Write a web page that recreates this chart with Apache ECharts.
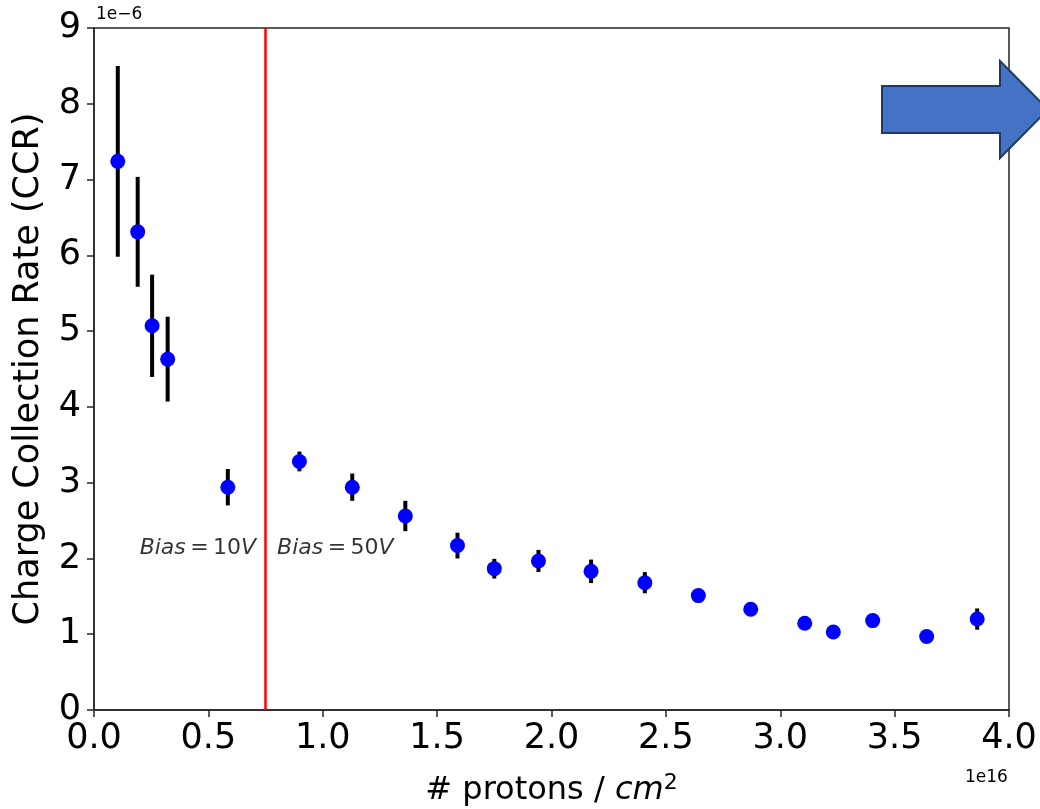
<!DOCTYPE html>
<html lang="en">
<head>
    <meta charset="UTF-8">
    <title>Charge Collection Rate</title>
    <script src="https://cdn.jsdelivr.net/npm/echarts@6/dist/echarts.min.js"></script>
    <style>
        html, body { margin: 0; padding: 0; background: #fff; }
    </style>
</head>
<body>
<div id="main" style="width: 1040px; height: 809px;"></div>
<script>
    // fluence in units of 1e16 protons/cm^2, CCR in units of 1e-6
    var fluence = [0.104, 0.191, 0.254, 0.322, 0.585, 0.898, 1.129, 1.361, 1.589, 1.75,
                   1.943, 2.173, 2.408, 2.642, 2.871, 3.107, 3.232, 3.404, 3.64, 3.861];
    var ccr = [7.24, 6.31, 5.07, 4.63, 2.94, 3.28, 2.94, 2.56, 2.17, 1.865,
               1.967, 1.83, 1.68, 1.51, 1.33, 1.145, 1.03, 1.18, 0.97, 1.20];
    var ccrErr = [1.26, 0.725, 0.675, 0.56, 0.24, 0.13, 0.18, 0.2, 0.17, 0.13,
                  0.145, 0.155, 0.14, 0.08, 0.08, 0.08, 0.08, 0.08, 0.08, 0.14];
    var biasSwitch = 0.747;  // bias changed from 10V to 50V here
    var xTicks = [0, 0.5, 1, 1.5, 2, 2.5, 3, 3.5, 4];

    var font = 'DejaVu Sans';
    var ink = '#262626';

    var points = [];
    var bars = [];
    for (var i = 0; i < fluence.length; i++) {
        points.push([fluence[i], ccr[i]]);
        bars.push([fluence[i], ccr[i] - ccrErr[i], ccr[i] + ccrErr[i]]);
    }

    var myCharts = echarts.init(document.getElementById('main'));

    function errorBar(params, api) {
        var lo = api.coord([api.value(0), api.value(1)]);
        var hi = api.coord([api.value(0), api.value(2)]);
        return {
            type: 'line',
            shape: {x1: lo[0], y1: lo[1], x2: hi[0], y2: hi[1]},
            style: {stroke: '#000', lineWidth: 4}
        };
    }

    var biasRich = {
        i: {fontFamily: font, fontStyle: 'italic', fontSize: 22, color: '#000', textBorderWidth: 0},
        n: {fontFamily: font, fontSize: 22, color: '#000', textBorderWidth: 0}
    };

    var option = {
        animation: false,
        backgroundColor: '#fff',
        grid: {
            left: 94,
            right: 31,
            top: 28,
            bottom: 99,
            containLabel: false,
            outerBoundsMode: 'none',
            show: true,
            borderColor: ink,
            borderWidth: 1.5
        },
        xAxis: {
            type: 'value',
            min: xTicks[0],
            max: xTicks[xTicks.length - 1],
            interval: 0.5,
            name: '# protons / {i|cm}{s|2}',
            nameLocation: 'middle',
            nameGap: 62,
            nameTextStyle: {
                fontFamily: font,
                fontSize: 32,
                color: '#000',
                rich: {
                    i: {fontFamily: font, fontStyle: 'italic', fontSize: 32, color: '#000'},
                    s: {fontFamily: font, fontSize: 22, color: '#000', padding: [0, 0, 16, 0]}
                }
            },
            splitLine: {show: false},
            axisLine: {lineStyle: {color: ink, width: 1.5}},
            axisTick: {length: 7, lineStyle: {color: ink, width: 1.5}},
            axisLabel: {
                margin: 11,
                fontFamily: font,
                fontSize: 35,
                color: '#000',
                formatter: function (v) { return v.toFixed(1); }
            }
        },
        yAxis: {
            type: 'value',
            min: 0,
            max: 9,
            interval: 1,
            name: 'Charge Collection Rate (CCR)',
            nameLocation: 'middle',
            nameRotate: 90,
            nameGap: 48,
            nameTextStyle: {fontFamily: font, fontSize: 35, color: '#000'},
            splitLine: {show: false},
            axisLine: {show: true, lineStyle: {color: ink, width: 1.5}},
            axisTick: {show: true, length: 7, lineStyle: {color: ink, width: 1.5}},
            axisLabel: {margin: 13, fontFamily: font, fontSize: 35, color: '#000'}
        },
        series: [
            {
                type: 'custom',
                renderItem: errorBar,
                data: bars,
                encode: {x: 0, y: [1, 2]},
                z: 2,
                silent: true
            },
            {
                type: 'scatter',
                data: points,
                symbol: 'circle',
                symbolSize: 15,
                itemStyle: {color: '#0000ff', opacity: 1},
                z: 3,
                markLine: {
                    silent: true,
                    symbol: ['none', 'none'],
                    label: {show: false},
                    lineStyle: {color: '#ff0000', width: 2.5, type: 'solid'},
                    data: [{xAxis: biasSwitch}]
                }
            },
            {
                type: 'scatter',
                symbolSize: 0,
                silent: true,
                z: 4,
                label: {
                    show: true,
                    position: 'inside',
                    color: '#000',
                    textBorderWidth: 0,
                    formatter: function (p) { return p.data.text; },
                    rich: biasRich
                },
                data: [
                    {value: [0.454, 2.14], text: '{i|Bias}{n|\u2009=\u200910}{i|V}'},
                    {value: [1.055, 2.14], text: '{i|Bias}{n|\u2009=\u200950}{i|V}'}
                ]
            }
        ],
        graphic: [
            {
                type: 'text',
                left: 96,
                top: 6,
                style: {text: '1e\u22126', fontFamily: font, fontSize: 17, fill: '#000'}
            },
            {
                type: 'text',
                left: 965,
                top: 769,
                style: {text: '1e16', fontFamily: font, fontSize: 17, fill: '#000'}
            },
            {
                type: 'polygon',
                z: 100,
                shape: {
                    points: [[882, 86], [1000, 86], [1000, 61], [1048, 109.5],
                             [1000, 158], [1000, 133], [882, 133]]
                },
                style: {fill: '#4472c4', stroke: '#203864', lineWidth: 2}
            }
        ]
    };

    myCharts.setOption(option);
</script>
</body>
</html>
